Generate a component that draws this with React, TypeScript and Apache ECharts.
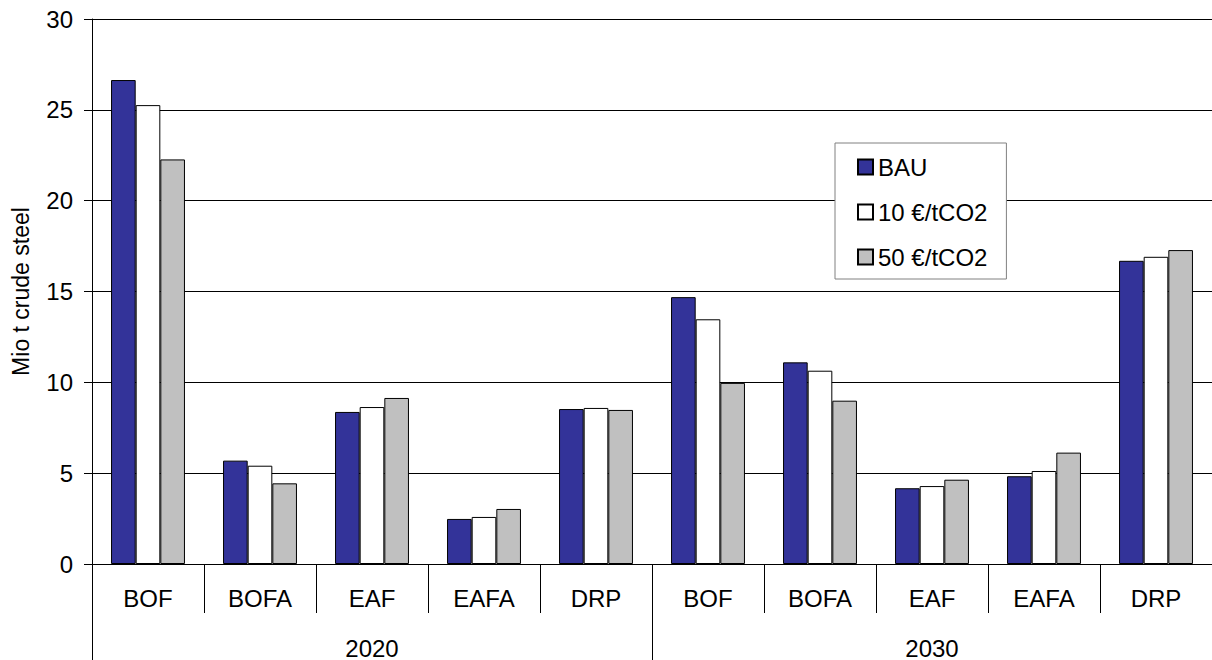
import React, { useEffect, useRef } from "react";
import * as echarts from "echarts";

const categories = ["BOF", "BOFA", "EAF", "EAFA", "DRP", "BOF", "BOFA", "EAF", "EAFA", "DRP"];
const years = ["2020", "2030"];
const seriesNames = ["BAU", "10 €/tCO2", "50 €/tCO2"];
const bau = [26.64, 5.69, 8.37, 2.48, 8.53, 14.69, 11.1, 4.17, 4.83, 16.69];
const co2_10 = [25.26, 5.41, 8.64, 2.59, 8.59, 13.47, 10.64, 4.29, 5.12, 16.91];
const co2_50 = [22.27, 4.44, 9.14, 3.03, 8.48, 9.97, 8.99, 4.64, 6.13, 17.28];
const colors = ["#333399", "#FFFFFF", "#C0C0C0"];

const FONT = "'Liberation Sans', Arial, sans-serif";

export default function App() {
  const ref = useRef<HTMLDivElement>(null);
  useEffect(() => {
    if (!ref.current) return;
    const chart = echarts.init(ref.current, undefined, { renderer: "svg" });
    const keyed = categories.map((c, i) => c + "|" + i);
    const values = [bau, co2_10, co2_50];
    chart.setOption({
      animation: false,
      backgroundColor: "#fff",
      textStyle: { fontFamily: FONT },
      grid: { left: 92, right: 0, top: 19, bottom: 96, containLabel: false },
      legend: {
        orient: "vertical",
        left: 835,
        top: 143,
        padding: [12, 19, 10, 22],
        itemWidth: 15,
        itemHeight: 15,
        itemGap: 21,
        backgroundColor: "#fff",
        borderColor: "#808080",
        borderWidth: 1,
        icon: "rect",
        textStyle: { fontSize: 24, color: "#000", fontFamily: FONT },
        data: seriesNames,
      },
      xAxis: [
        {
          type: "category",
          data: keyed,
          position: "bottom",
          axisLine: { show: true, lineStyle: { color: "#000", width: 1 } },
          axisTick: { show: true, length: 49, interval: 0, lineStyle: { color: "#000" } },
          axisLabel: {
            interval: 0,
            margin: 22,
            fontSize: 24,
            color: "#000",
            fontFamily: FONT,
            formatter: (v: string) => v.split("|")[0],
          },
          splitLine: { show: false },
        },
        {
          type: "category",
          data: years,
          position: "bottom",
          offset: 0,
          axisLine: { show: false },
          axisTick: { show: true, length: 96, interval: 0, lineStyle: { color: "#000" } },
          axisLabel: { interval: 0, margin: 72, fontSize: 24, color: "#000", fontFamily: FONT },
          splitLine: { show: false },
        },
      ],
      yAxis: {
        type: "value",
        min: 0,
        max: 30,
        interval: 5,
        name: "Mio t crude steel",
        nameLocation: "middle",
        nameRotate: 90,
        nameGap: 60,
        nameTextStyle: { fontSize: 23, color: "#000", fontFamily: FONT },
        axisLine: { show: true, lineStyle: { color: "#000", width: 1 } },
        axisTick: { show: true, length: 8, lineStyle: { color: "#000" } },
        axisLabel: { margin: 19, fontSize: 24, color: "#000", fontFamily: FONT },
        splitLine: { show: true, lineStyle: { color: "#000", width: 1 } },
      },
      series: seriesNames.map((name, i) => ({
        name,
        type: "bar",
        xAxisIndex: 0,
        data: values[i],
        barGap: "0%",
        barCategoryGap: "34%",
        itemStyle: { color: colors[i], borderColor: "#000", borderWidth: 1 },
      })),
    });
    return () => chart.dispose();
  }, []);
  return (
    <div
      ref={ref}
      style={{ position: "fixed", left: 0, top: 0, width: 1212, height: 660, background: "#fff" }}
    />
  );
}
